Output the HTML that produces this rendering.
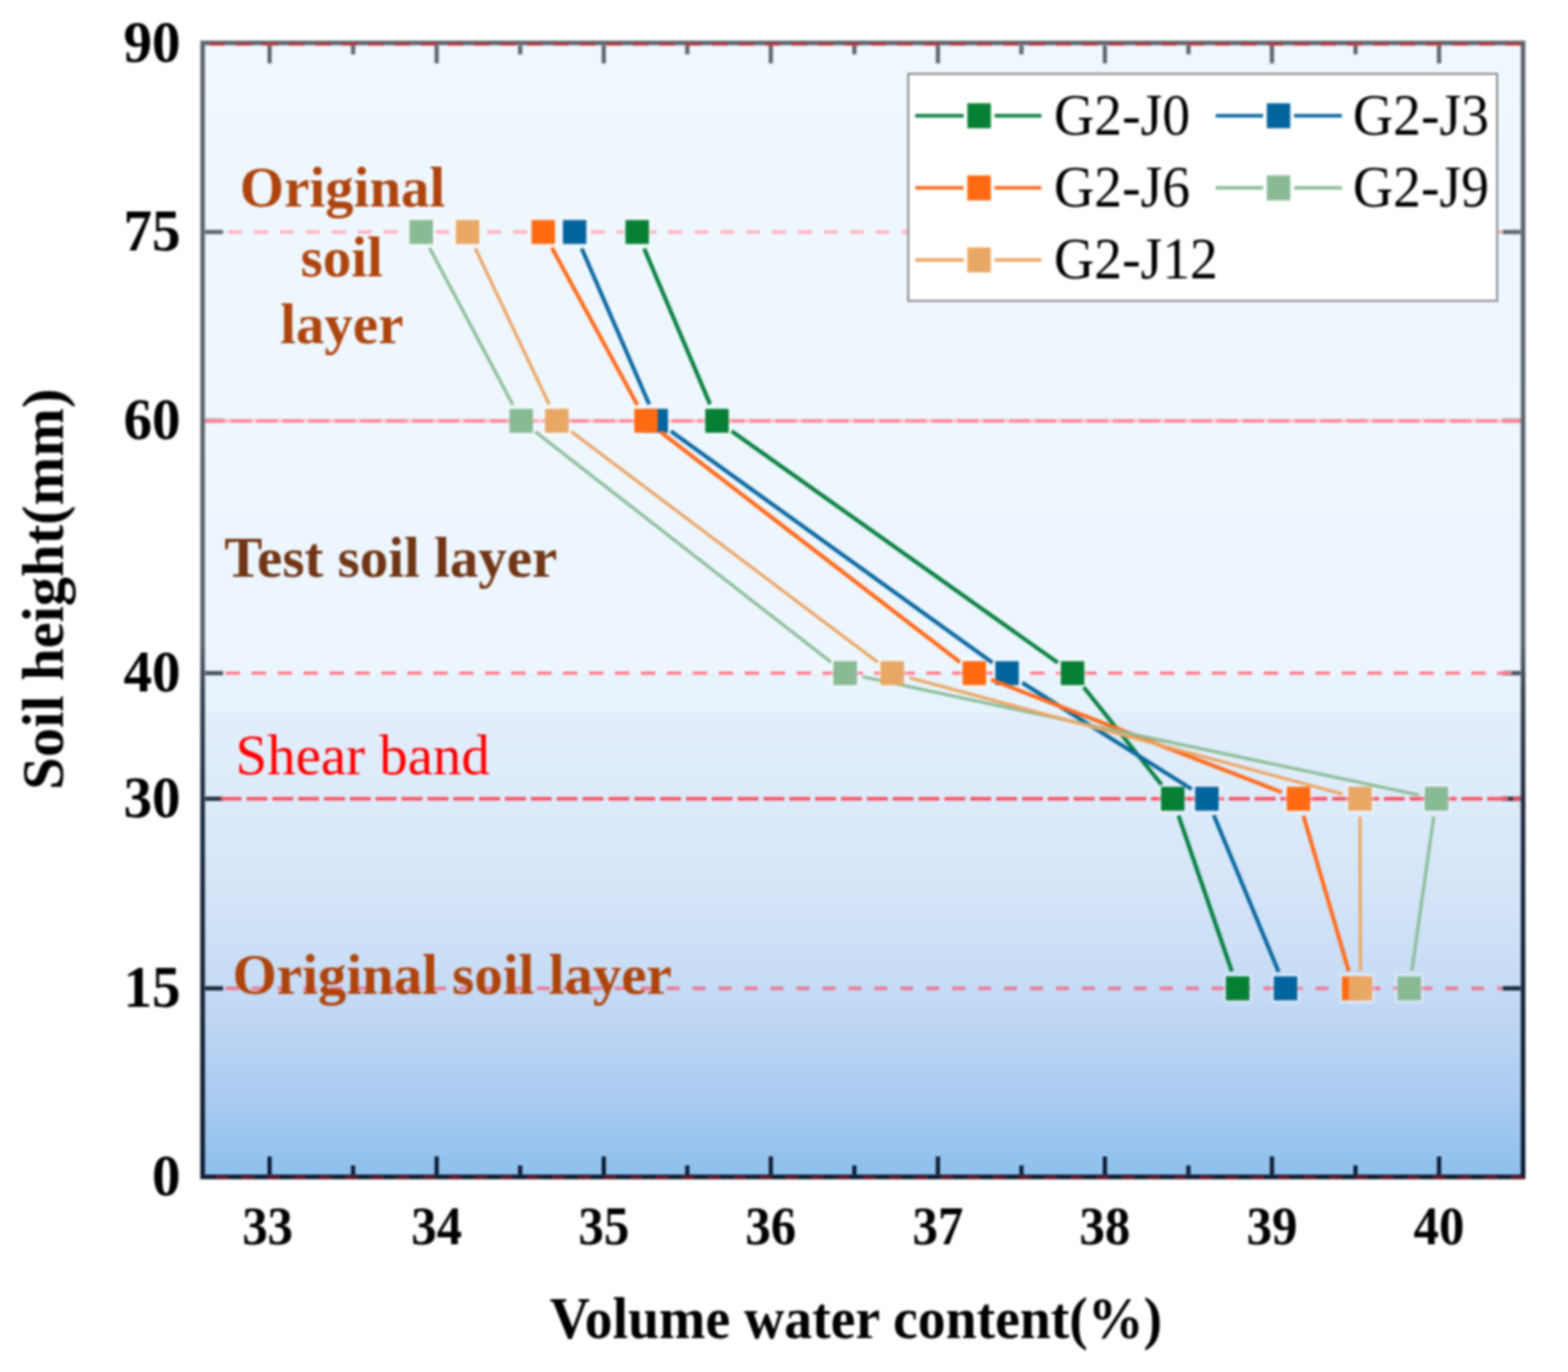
<!DOCTYPE html>
<html><head><meta charset="utf-8"><style>
html,body{margin:0;padding:0;background:#fff;}
svg{display:block;filter:blur(1px);}
text{font-family:"Liberation Serif","Times New Roman",serif;}
</style></head><body>
<svg width="1571" height="1375" viewBox="0 0 1571 1375">
<defs>
<linearGradient id="bg" x1="0" y1="43.0" x2="0" y2="1179.5" gradientUnits="userSpaceOnUse">
<stop offset="0" stop-color="rgb(240,248,254)"/>
<stop offset="0.555" stop-color="rgb(237,246,254)"/>
<stop offset="0.557" stop-color="rgb(232,244,253)"/>
<stop offset="0.590" stop-color="rgb(230,243,253)"/>
<stop offset="0.592" stop-color="rgb(227,238,251)"/>
<stop offset="0.666" stop-color="rgb(221,235,250)"/>
<stop offset="0.75" stop-color="rgb(212,229,248)"/>
<stop offset="0.833" stop-color="rgb(198,219,245)"/>
<stop offset="0.88" stop-color="rgb(186,211,243)"/>
<stop offset="0.93" stop-color="rgb(170,203,241)"/>
<stop offset="0.97" stop-color="rgb(153,196,239)"/>
<stop offset="1" stop-color="rgb(142,192,237)"/>
</linearGradient>
<linearGradient id="sp" x1="0" y1="43.0" x2="0" y2="1179.5" gradientUnits="userSpaceOnUse">
<stop offset="0" stop-color="#5e656d"/>
<stop offset="0.53" stop-color="#5a626b"/>
<stop offset="0.57" stop-color="#38434f"/>
<stop offset="0.68" stop-color="#1e2b3d"/>
<stop offset="1" stop-color="#0b1a30"/>
</linearGradient>
</defs>
<rect x="203.0" y="43.0" width="1323.0" height="1136.5" fill="url(#bg)"/>

<g stroke="url(#sp)" stroke-width="4.2" fill="none">
<line x1="270.1" y1="45.5" x2="270.1" y2="63.5"/>
<line x1="270.1" y1="1177.0" x2="270.1" y2="1159.0"/>
<line x1="353.8" y1="45.5" x2="353.8" y2="54.5"/>
<line x1="353.8" y1="1177.0" x2="353.8" y2="1168.0"/>
<line x1="437.5" y1="45.5" x2="437.5" y2="63.5"/>
<line x1="437.5" y1="1177.0" x2="437.5" y2="1159.0"/>
<line x1="521.2" y1="45.5" x2="521.2" y2="54.5"/>
<line x1="521.2" y1="1177.0" x2="521.2" y2="1168.0"/>
<line x1="604.9" y1="45.5" x2="604.9" y2="63.5"/>
<line x1="604.9" y1="1177.0" x2="604.9" y2="1159.0"/>
<line x1="688.6" y1="45.5" x2="688.6" y2="54.5"/>
<line x1="688.6" y1="1177.0" x2="688.6" y2="1168.0"/>
<line x1="772.3" y1="45.5" x2="772.3" y2="63.5"/>
<line x1="772.3" y1="1177.0" x2="772.3" y2="1159.0"/>
<line x1="856.0" y1="45.5" x2="856.0" y2="54.5"/>
<line x1="856.0" y1="1177.0" x2="856.0" y2="1168.0"/>
<line x1="939.7" y1="45.5" x2="939.7" y2="63.5"/>
<line x1="939.7" y1="1177.0" x2="939.7" y2="1159.0"/>
<line x1="1023.4" y1="45.5" x2="1023.4" y2="54.5"/>
<line x1="1023.4" y1="1177.0" x2="1023.4" y2="1168.0"/>
<line x1="1107.0" y1="45.5" x2="1107.0" y2="63.5"/>
<line x1="1107.0" y1="1177.0" x2="1107.0" y2="1159.0"/>
<line x1="1190.7" y1="45.5" x2="1190.7" y2="54.5"/>
<line x1="1190.7" y1="1177.0" x2="1190.7" y2="1168.0"/>
<line x1="1274.4" y1="45.5" x2="1274.4" y2="63.5"/>
<line x1="1274.4" y1="1177.0" x2="1274.4" y2="1159.0"/>
<line x1="1358.1" y1="45.5" x2="1358.1" y2="54.5"/>
<line x1="1358.1" y1="1177.0" x2="1358.1" y2="1168.0"/>
<line x1="1441.8" y1="45.5" x2="1441.8" y2="63.5"/>
<line x1="1441.8" y1="1177.0" x2="1441.8" y2="1159.0"/>
<line x1="205.5" y1="990.5" x2="223.5" y2="990.5"/>
<line x1="1523.5" y1="990.5" x2="1505.5" y2="990.5"/>
<line x1="205.5" y1="800.5" x2="223.5" y2="800.5"/>
<line x1="1523.5" y1="800.5" x2="1505.5" y2="800.5"/>
<line x1="205.5" y1="674.6" x2="223.5" y2="674.6"/>
<line x1="1523.5" y1="674.6" x2="1505.5" y2="674.6"/>
<line x1="205.5" y1="421.7" x2="223.5" y2="421.7"/>
<line x1="1523.5" y1="421.7" x2="1505.5" y2="421.7"/>
<line x1="205.5" y1="232.5" x2="223.5" y2="232.5"/>
<line x1="1523.5" y1="232.5" x2="1505.5" y2="232.5"/>
</g>
<line x1="228.6" y1="232.5" x2="1505.0" y2="232.5" stroke="#ffb4c0" stroke-width="3.4" stroke-dasharray="14 11.95" stroke-dashoffset="0"/>
<line x1="205.0" y1="421.7" x2="1524.0" y2="421.7" stroke="#ffc4cc" stroke-width="3.6" stroke-dasharray="none" stroke-dashoffset="0"/>
<line x1="205.0" y1="421.7" x2="1524.0" y2="421.7" stroke="#ff8898" stroke-width="3.6" stroke-dasharray="21 5" stroke-dashoffset="0"/>
<line x1="226.1" y1="674.6" x2="1524.0" y2="674.6" stroke="#ff7c8e" stroke-width="3.4" stroke-dasharray="14.5 11.5" stroke-dashoffset="0"/>
<line x1="221.0" y1="800.5" x2="1524.0" y2="800.5" stroke="#ff4c5e" stroke-width="3.6" stroke-dasharray="21 4.9" stroke-dashoffset="0"/>
<line x1="226.0" y1="990.5" x2="1505.0" y2="990.5" stroke="#ec7892" stroke-width="3.6" stroke-dasharray="13 13" stroke-dashoffset="0"/>
<g fill="#ffffff" fill-opacity="0.3">
<rect x="623.65" y="217.50" width="29.5" height="30"/>
<rect x="703.65" y="406.70" width="29.5" height="30"/>
<rect x="1059.85" y="659.60" width="29.5" height="30"/>
<rect x="1160.25" y="785.50" width="29.5" height="30"/>
<rect x="1225.25" y="975.50" width="29.5" height="30"/>
<rect x="560.95" y="217.50" width="29.5" height="30"/>
<rect x="642.75" y="406.70" width="29.5" height="30"/>
<rect x="994.25" y="659.60" width="29.5" height="30"/>
<rect x="1194.45" y="785.50" width="29.5" height="30"/>
<rect x="1273.25" y="975.50" width="29.5" height="30"/>
<rect x="529.55" y="217.50" width="29.5" height="30"/>
<rect x="632.45" y="406.70" width="29.5" height="30"/>
<rect x="961.45" y="659.60" width="29.5" height="30"/>
<rect x="1286.25" y="785.50" width="29.5" height="30"/>
<rect x="1341.55" y="975.50" width="29.5" height="30"/>
<rect x="407.25" y="217.50" width="29.5" height="30"/>
<rect x="507.45" y="406.70" width="29.5" height="30"/>
<rect x="832.05" y="659.60" width="29.5" height="30"/>
<rect x="1424.45" y="785.50" width="29.5" height="30"/>
<rect x="1397.15" y="975.50" width="29.5" height="30"/>
<rect x="453.75" y="217.50" width="29.5" height="30"/>
<rect x="543.15" y="406.70" width="29.5" height="30"/>
<rect x="879.25" y="659.60" width="29.5" height="30"/>
<rect x="1347.85" y="785.50" width="29.5" height="30"/>
<rect x="1348.25" y="975.50" width="29.5" height="30"/>
</g>
<g font-weight="bold" font-size="57" fill="#ae440d" text-anchor="middle">
<text x="343.3" y="207.3">Original</text>
<text x="342.5" y="277.3">soil</text>
<text x="342.5" y="344.1">layer</text>
</g>
<text x="224.8" y="577.7" font-weight="bold" font-size="57" fill="#703515">Test soil layer</text>
<text x="236" y="775.5" font-size="57" fill="#ff0000">Shear band</text>

<path d="M645.4,249.1L711.4,405.1M733.1,432.1L1059.9,664.2M1085.8,688.7L1163.8,786.4M1180.8,817.5L1234.2,973.5" stroke="#098040" stroke-width="4" fill="none"/>
<rect x="626.65" y="220.50" width="23.5" height="24" fill="#058034"/>
<rect x="706.65" y="409.70" width="23.5" height="24" fill="#058034"/>
<rect x="1062.85" y="662.60" width="23.5" height="24" fill="#058034"/>
<rect x="1163.25" y="788.50" width="23.5" height="24" fill="#058034"/>
<rect x="1228.25" y="978.50" width="23.5" height="24" fill="#058034"/>
<path d="M582.8,249.0L650.4,405.2M672.1,432.2L994.4,664.1M1024.2,684.2L1194.0,790.9M1216.1,817.1L1281.1,973.9" stroke="#0a68a0" stroke-width="4" fill="none"/>
<rect x="563.95" y="220.50" width="23.5" height="24" fill="#03649e"/>
<rect x="645.75" y="409.70" width="23.5" height="24" fill="#03649e"/>
<rect x="997.25" y="662.60" width="23.5" height="24" fill="#03649e"/>
<rect x="1197.45" y="788.50" width="23.5" height="24" fill="#03649e"/>
<rect x="1276.25" y="978.50" width="23.5" height="24" fill="#03649e"/>
<path d="M552.9,248.3L638.6,405.9M661.5,432.7L961.9,663.6M993.0,681.1L1284.2,794.0M1306.0,817.8L1351.3,973.2" stroke="#ff6c1c" stroke-width="4" fill="none"/>
<rect x="532.55" y="220.50" width="23.5" height="24" fill="#ff6a12"/>
<rect x="635.45" y="409.70" width="23.5" height="24" fill="#ff6a12"/>
<rect x="964.45" y="662.60" width="23.5" height="24" fill="#ff6a12"/>
<rect x="1289.25" y="788.50" width="23.5" height="24" fill="#ff6a12"/>
<rect x="1344.55" y="978.50" width="23.5" height="24" fill="#ff6a12"/>
<path d="M430.4,248.4L513.8,405.8M536.4,432.8L832.6,663.5M864.4,678.3L1421.6,796.8M1436.6,818.3L1414.5,972.7" stroke="#8bbd97" stroke-width="3.2" fill="none"/>
<rect x="410.25" y="220.50" width="23.5" height="24" fill="#88ba94"/>
<rect x="510.45" y="409.70" width="23.5" height="24" fill="#88ba94"/>
<rect x="835.05" y="662.60" width="23.5" height="24" fill="#88ba94"/>
<rect x="1427.45" y="788.50" width="23.5" height="24" fill="#88ba94"/>
<rect x="1400.15" y="978.50" width="23.5" height="24" fill="#88ba94"/>
<path d="M476.2,248.8L550.2,405.4M572.3,432.5L879.6,663.8M911.4,679.3L1345.2,795.8M1362.6,818.5L1363.0,972.5" stroke="#eca565" stroke-width="3.2" fill="none"/>
<rect x="456.75" y="220.50" width="23.5" height="24" fill="#e9a765"/>
<rect x="546.15" y="409.70" width="23.5" height="24" fill="#e9a765"/>
<rect x="882.25" y="662.60" width="23.5" height="24" fill="#e9a765"/>
<rect x="1350.85" y="788.50" width="23.5" height="24" fill="#e9a765"/>
<rect x="1351.25" y="978.50" width="23.5" height="24" fill="#e9a765"/>
<text x="233" y="995.6" font-weight="bold" font-size="57" fill="#ae440d">Original soil layer</text>

<rect x="203.0" y="43.0" width="1323.0" height="1136.5" fill="none" stroke="url(#sp)" stroke-width="4.6"/>
<line x1="203.0" y1="44.3" x2="1526.0" y2="44.3" stroke="#c22c36" stroke-width="2.6" stroke-dasharray="15.5 11" stroke-dashoffset="-7"/>
<line x1="203.0" y1="1180.0" x2="1526.0" y2="1180.0" stroke="#7a1422" stroke-width="2.6" stroke-dasharray="12.5 13.45" stroke-dashoffset="-13"/>
<rect x="910" y="74" width="590" height="227.5" fill="#ffffff" stroke="#8a8a8a" stroke-width="2"/>
<path d="M917,116H965.5M996.5,116H1043.5" stroke="#098040" stroke-width="3.4"/>
<rect x="969.25" y="103.5" width="23.5" height="25" fill="#058034"/>
<text transform="translate(1056.0,134.8) scale(0.93,1)" font-size="60" fill="#000">G2-J0</text>
<path d="M1218,116H1265.5M1296.5,116H1344.5" stroke="#0a68a0" stroke-width="3.4"/>
<rect x="1269.25" y="103.5" width="23.5" height="25" fill="#03649e"/>
<text transform="translate(1355.5,134.8) scale(0.93,1)" font-size="60" fill="#000">G2-J3</text>
<path d="M917,188.3H965.5M996.5,188.3H1043.5" stroke="#ff6c1c" stroke-width="3.4"/>
<rect x="969.25" y="175.8" width="23.5" height="25" fill="#ff6a12"/>
<text transform="translate(1056.0,207.10000000000002) scale(0.93,1)" font-size="60" fill="#000">G2-J6</text>
<path d="M1218,188.3H1265.5M1296.5,188.3H1344.5" stroke="#8bbd97" stroke-width="3.4"/>
<rect x="1269.25" y="175.8" width="23.5" height="25" fill="#88ba94"/>
<text transform="translate(1355.5,207.10000000000002) scale(0.93,1)" font-size="60" fill="#000">G2-J9</text>
<path d="M917,260.5H965.5M996.5,260.5H1043.5" stroke="#eca565" stroke-width="3.4"/>
<rect x="969.25" y="248.0" width="23.5" height="25" fill="#e9a765"/>
<text transform="translate(1056.0,279.3) scale(0.93,1)" font-size="60" fill="#000">G2-J12</text>
<g font-weight="bold" font-size="60" fill="#000" text-anchor="end">
<text transform="translate(181,61.7) scale(0.955,1)">90</text>
<text transform="translate(181,251.2) scale(0.955,1)">75</text>
<text transform="translate(181,440.4) scale(0.955,1)">60</text>
<text transform="translate(181,693.3) scale(0.955,1)">40</text>
<text transform="translate(181,819.2) scale(0.955,1)">30</text>
<text transform="translate(181,1009.2) scale(0.955,1)">15</text>
<text transform="translate(181,1198.2) scale(0.955,1)">0</text>
</g>
<g font-weight="bold" font-size="54.5" fill="#000" text-anchor="middle">
<text transform="translate(268.1,1246.5) scale(0.935,1)">33</text>
<text transform="translate(437.5,1246.5) scale(0.935,1)">34</text>
<text transform="translate(604.9,1246.5) scale(0.935,1)">35</text>
<text transform="translate(772.3,1246.5) scale(0.935,1)">36</text>
<text transform="translate(939.7,1246.5) scale(0.935,1)">37</text>
<text transform="translate(1107.0,1246.5) scale(0.935,1)">38</text>
<text transform="translate(1274.4,1246.5) scale(0.935,1)">39</text>
<text transform="translate(1441.8,1246.5) scale(0.935,1)">40</text>
</g>
<text transform="translate(857.5,1340.5) scale(0.954,1)" font-weight="bold" font-size="58.5" fill="#000" text-anchor="middle">Volume water content(%)</text>
<text transform="translate(62.8,590.4) rotate(-90) scale(0.985,1)" font-weight="bold" font-size="59.5" fill="#000" text-anchor="middle">Soil height(mm)</text>
</svg></body></html>
